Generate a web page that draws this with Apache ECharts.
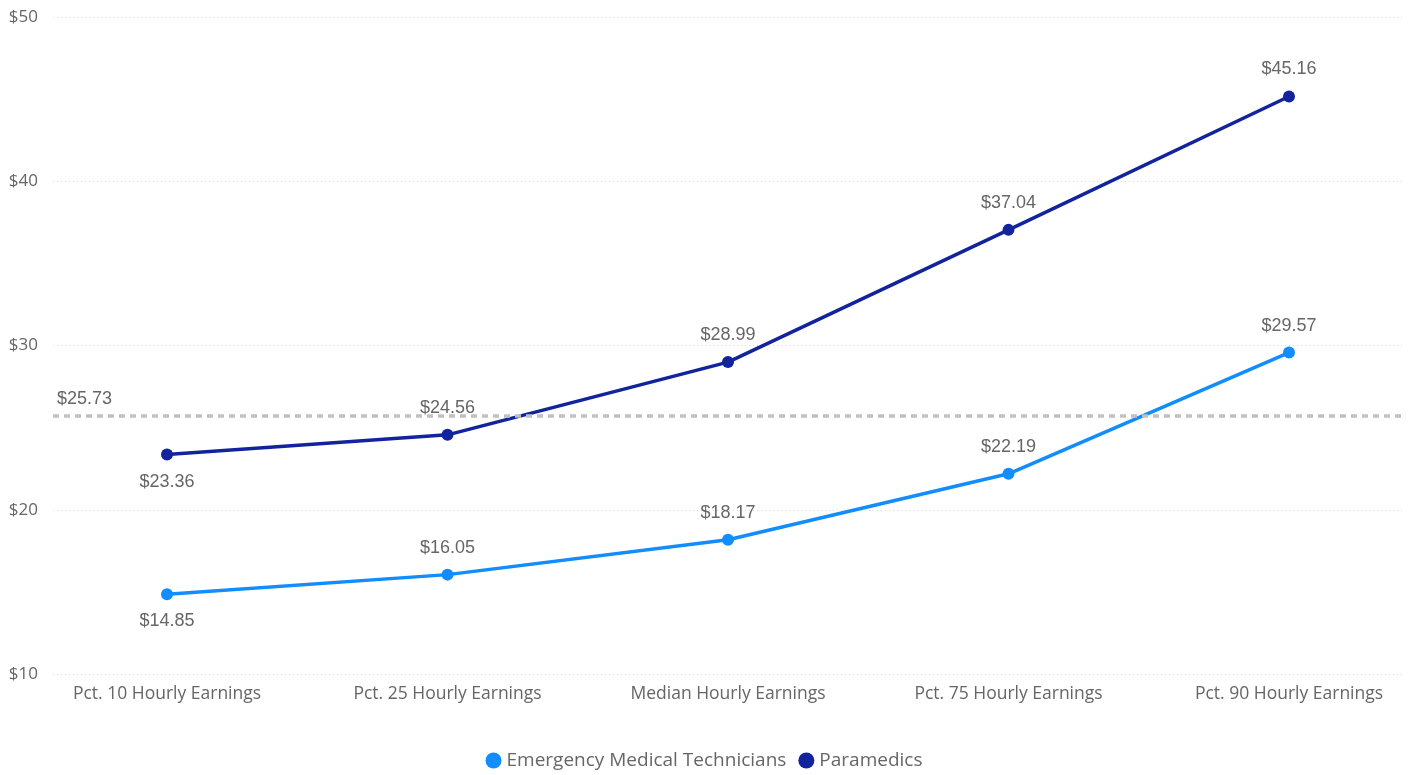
<!DOCTYPE html>
<html>
<head>
<meta charset="utf-8">
<script src="https://cdn.jsdelivr.net/npm/echarts@6/dist/echarts.min.js"></script>
<style>html,body{margin:0;padding:0;background:#fff}#c{width:1408px;height:775px}</style>
</head>
<body>
<div id="c"></div>
<script>
const categories = ['Pct. 10 Hourly Earnings','Pct. 25 Hourly Earnings','Median Hourly Earnings','Pct. 75 Hourly Earnings','Pct. 90 Hourly Earnings'];
const emtValues = [14.85, 16.05, 18.17, 22.19, 29.57];
const paramedicValues = [23.36, 24.56, 28.99, 37.04, 45.16];
const emtLabelPos = ['bottom','top','top','top','top'];
const paraLabelPos = ['bottom','top','top','top','top'];
const averageValue = 25.73;
const yMin = 10, yMax = 50, yStep = 10;

const uiFont = '"Open Sans", "Noto Sans", sans-serif';
const numFont = '"Liberation Sans", Arial, sans-serif';
const textColor = '#666666';

function pts(vals, pos) {
  return vals.map((v, i) => ({ value: v, label: { position: pos[i] } }));
}
const chart = echarts.init(document.getElementById('c'));
chart.setOption({
  animation: false,
  legend: {
    top: 751, left: 'center', icon: 'circle', itemWidth: 16, itemHeight: 16, itemGap: 12, padding: 0,
    textStyle: { fontFamily: uiFont, fontSize: 19, color: textColor },
    data: ['Emergency Medical Technicians', 'Paramedics']
  },
  grid: [
    { left: 53, right: 3, top: 17, bottom: 101 },
    { left: 167, right: 119, top: 17, bottom: 101 }
  ],
  xAxis: [
    { gridIndex: 0, type: 'value', min: 0, max: 1, show: false },
    { gridIndex: 1, type: 'category', data: categories, boundaryGap: false,
      axisLine: { show: false }, axisTick: { show: false },
      axisLabel: { fontFamily: uiFont, fontSize: 17.5, color: textColor, margin: 11, interval: 0 } }
  ],
  yAxis: [
    { gridIndex: 0, type: 'value', min: yMin, max: yMax, interval: yStep,
      axisLine: { show: false }, axisTick: { show: false },
      axisLabel: { fontFamily: uiFont, fontSize: 17, color: textColor, margin: 15, formatter: v => '$' + v },
      splitLine: { lineStyle: { color: '#d9d9d9', type: [1, 3], width: 1 } } },
    { gridIndex: 1, type: 'value', min: yMin, max: yMax, interval: yStep, show: false, splitLine: { show: false } }
  ],
  series: [
    { name: 'avg', type: 'line', xAxisIndex: 0, yAxisIndex: 0, data: [], silent: true,
      markLine: { symbol: 'none', silent: true,
        lineStyle: { color: '#c0c0c0', type: [6, 5], width: 3.5 },
        label: { position: 'insideStartTop', formatter: '$' + averageValue.toFixed(2), fontFamily: numFont, fontSize: 18, color: textColor, distance: [4, 8] },
        data: [{ yAxis: averageValue }] } },
    { name: 'Emergency Medical Technicians', type: 'line', xAxisIndex: 1, yAxisIndex: 1,
      data: pts(emtValues, emtLabelPos), symbol: 'circle', symbolSize: 12,
      itemStyle: { color: '#118DFF' }, lineStyle: { color: '#118DFF', width: 3.5 },
      label: { show: true, formatter: p => '$' + p.value.toFixed(2), fontFamily: numFont, fontSize: 18, color: textColor, distance: 12 },
      z: 3 },
    { name: 'Paramedics', type: 'line', xAxisIndex: 1, yAxisIndex: 1,
      data: pts(paramedicValues, paraLabelPos), symbol: 'circle', symbolSize: 12,
      itemStyle: { color: '#12239E' }, lineStyle: { color: '#12239E', width: 3.5 },
      label: { show: true, formatter: p => '$' + p.value.toFixed(2), fontFamily: numFont, fontSize: 18, color: textColor, distance: 12 },
      z: 4 }
  ]
});
</script>
</body>
</html>
